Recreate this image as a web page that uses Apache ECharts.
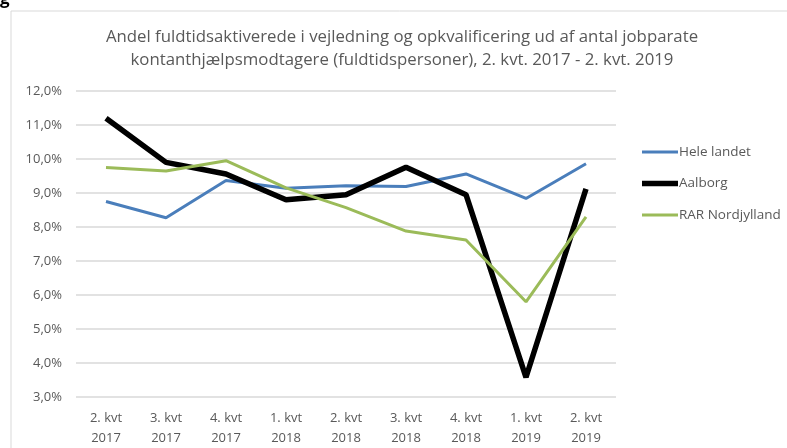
<!DOCTYPE html>
<html>
<head>
<meta charset="utf-8">
<script src="https://cdn.jsdelivr.net/npm/echarts@6/dist/echarts.min.js"></script>
<style>
  html, body { margin: 0; padding: 0; background: #fff; }
  #chart { width: 787px; height: 448px; }
</style>
</head>
<body>
<div id="chart"></div>
<script>
// kvartaler og andele (%)
const categories = ['2. kvt\n2017', '3. kvt\n2017', '4. kvt\n2017', '1. kvt\n2018', '2. kvt\n2018',
    '3. kvt\n2018', '4. kvt\n2018', '1. kvt\n2019', '2. kvt\n2019'];
const heleLandet = [8.75, 8.27, 9.37, 9.14, 9.21, 9.19, 9.56, 8.84, 9.86];
const aalborg = [11.2, 9.9, 9.56, 8.8, 8.95, 9.76, 8.95, 3.58, 9.12];
const rarNordjylland = [9.75, 9.65, 9.95, 9.15, 8.57, 7.88, 7.62, 5.8, 8.3];

const font = 'Open Sans';
const grey = '#595959';

const chart = echarts.init(document.getElementById('chart'));
chart.setOption({
    animation: false,
    title: {
        text: 'Andel fuldtidsaktiverede i vejledning og opkvalificering ud af antal jobparate\nkontanthjælpsmodtagere (fuldtidspersoner), 2. kvt. 2017 - 2. kvt. 2019',
        left: 397,
        top: 21,
        textAlign: 'center',
        textStyle: { fontFamily: font, fontSize: 16.8, fontWeight: 'normal', color: grey, lineHeight: 23 }
    },
    graphic: [
        { type: 'rect', shape: { x: 11, y: 11, width: 800, height: 460 }, style: { fill: 'none', stroke: '#d9d9d9', lineWidth: 1 } },
        { type: 'text', left: 0, top: -9, style: { text: 'g', font: 'bold 17px "Open Sans"', fill: '#000' } }
    ],
    legend: {
        orient: 'vertical',
        left: 637,
        top: 140,
        itemWidth: 36,
        itemHeight: 14,
        itemGap: 17.5,
        textStyle: { fontFamily: font, fontSize: 13.5, color: grey, padding: [0, 0, 0, -4] },
        data: [
            { name: 'Hele landet', icon: 'path://M0,0h36v3h-36z' },
            { name: 'Aalborg', icon: 'path://M0,0h36v5.5h-36z' },
            { name: 'RAR Nordjylland', icon: 'path://M0,0h36v3h-36z' }
        ]
    },
    grid: { left: 76, right: 171, top: 91, bottom: 51 },
    xAxis: {
        type: 'category',
        data: categories,
        axisLine: { show: false },
        axisTick: { show: false },
        axisLabel: { fontFamily: font, fontSize: 13, color: grey, lineHeight: 20, margin: 11 }
    },
    yAxis: {
        type: 'value',
        min: 3,
        max: 12,
        interval: 1,
        axisLine: { show: false },
        axisTick: { show: false },
        splitLine: { lineStyle: { color: '#d9d9d9', width: 1.5 } },
        axisLabel: {
            fontFamily: font, fontSize: 13, color: grey, margin: 14,
            formatter: v => v.toFixed(1).replace('.', ',') + '%'
        }
    },
    series: [
        { name: 'Hele landet', type: 'line', data: heleLandet, symbol: 'none', color: '#4a7ebb', lineStyle: { width: 3 }, z: 2 },
        { name: 'Aalborg', type: 'line', data: aalborg, symbol: 'none', color: '#000', lineStyle: { width: 5.5 }, z: 3 },
        { name: 'RAR Nordjylland', type: 'line', data: rarNordjylland, symbol: 'none', color: '#9bbb59', lineStyle: { width: 3 }, z: 4 }
    ]
});
</script>
</body>
</html>
